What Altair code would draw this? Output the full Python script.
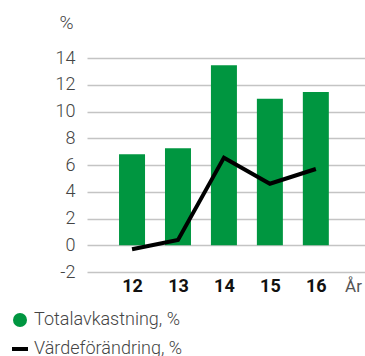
import altair as alt
import pandas as pd

# Years and series
years = [12, 13, 14, 15, 16]
totalavkastning = [6.8, 7.25, 13.45, 10.95, 11.45]
vardeforandring = [-0.3, 0.4, 6.55, 4.6, 5.7]
y_ticks = [-2, 0, 2, 4, 6, 8, 10, 12, 14]

df = pd.DataFrame({
    "year": years,
    "total": totalavkastning,
    "varde": vardeforandring,
    "s1": ["Totalavkastning, %"] * len(years),
    "s2": ["Värdeförändring, %"] * len(years),
})

FONT = "Roboto"
GREEN = "#009640"

x = alt.X(
    "year:Q",
    scale=alt.Scale(domain=[11.02, 17.07], nice=False, zero=False, padding=0),
    axis=alt.Axis(
        values=years, tickCount=len(years), format="d", grid=False, ticks=False, domain=False,
        labelFontSize=18, labelFontWeight="bold", labelColor="#111111",
        labelPadding=5, labelFont=FONT, labelOverlap=False,
        title="År", titleFontSize=17, titleFontWeight="normal", titleColor="#555555",
        titleFont=FONT, titleX=266, titleY=14, titleAlign="center", titleBaseline="middle",
        titleAngle=0,
    ),
)
y = alt.Y(
    "total:Q",
    scale=alt.Scale(domain=[-2, 14], nice=False),
    axis=alt.Axis(
        values=y_ticks, tickCount=len(y_ticks), ticks=False, domain=False,
        labelExpr="datum.value + ''",
        gridColor="#c4c4c4", gridWidth=1.5, labelOverlap=False,
        labelFontSize=18, labelColor="#444444", labelPadding=12, labelFont=FONT,
        labelFontWeight=300,
        title="%", titleAngle=0, titleX=-21, titleY=-36, titleAlign="center",
        titleBaseline="middle", titleFontSize=19, titleFontWeight=300,
        titleColor="#444444", titleFont=FONT,
    ),
)

bars = alt.Chart(df).mark_bar(size=26).encode(
    x=x,
    y=y,
    color=alt.Color(
        "s1:N",
        scale=alt.Scale(range=[GREEN]),
        legend=alt.Legend(
            title=None, orient="none", legendX=-76, legendY=253,
            symbolType="circle", symbolSize=196, symbolStrokeWidth=0,
            labelFontSize=18, labelColor="#444444", labelFont=FONT, labelFontWeight=300,
            labelOffset=5, padding=0,
        ),
    ),
)

line = alt.Chart(df).mark_line(strokeWidth=4, color="black").encode(
    x=alt.X("year:Q"),
    y=alt.Y("varde:Q"),
    stroke=alt.Stroke(
        "s2:N",
        scale=alt.Scale(range=["black"]),
        legend=alt.Legend(
            title=None, orient="none", legendX=-77, legendY=281,
            symbolType="stroke", symbolSize=256, symbolStrokeWidth=4,
            labelFontSize=18, labelColor="#444444", labelFont=FONT, labelFontWeight=300,
            labelOffset=4, padding=0,
        ),
    ),
)

chart = alt.layer(bars, line).properties(
    width=278,
    height=214,
    background="white",
    autosize=alt.AutoSizeParams(type="none"),
    padding={"left": 87, "top": 58, "right": 0, "bottom": 84},
).configure_view(stroke=None)

chart.save("out.html", embed_options={"renderer": "svg", "actions": False})
